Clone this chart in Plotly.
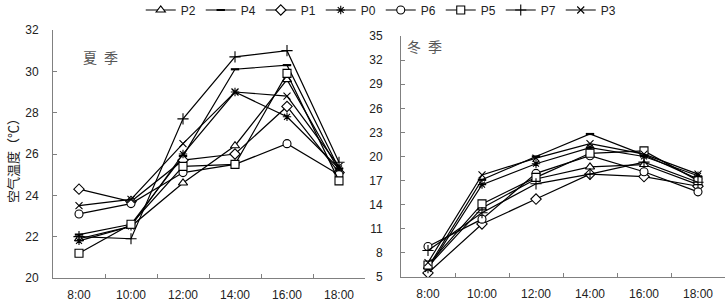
import plotly.graph_objects as go

times = ["8:00", "10:00", "12:00", "14:00", "16:00", "18:00"]
series_names = ["P2", "P4", "P1", "P0", "P6", "P5", "P7", "P3"]

# Summer (夏季) air temperature
summer_P2 = [21.9, 22.5, 24.6, 26.4, 29.6, 25.2]
summer_P4 = [22.1, 22.6, 25.9, 30.1, 30.3, 25.3]
summer_P1 = [24.3, 23.7, 25.7, 26.0, 28.3, 25.1]
summer_P0 = [21.8, 22.5, 26.0, 29.0, 27.8, 25.3]
summer_P6 = [23.1, 23.6, 25.1, 25.5, 26.5, 25.0]
summer_P5 = [21.2, 22.6, 25.4, 25.5, 29.9, 24.7]
summer_P7 = [22.0, 21.9, 27.7, 30.7, 31.0, 25.6]
summer_P3 = [23.5, 23.8, 26.5, 29.0, 28.8, 25.4]

# Winter (冬季) air temperature
winter_P2 = [6.3, 13.6, 17.2, 18.7, 19.0, 16.5]
winter_P4 = [6.2, 17.1, 20.0, 22.8, 20.2, 17.2]
winter_P1 = [5.5, 11.6, 14.7, 17.8, 17.5, 16.3]
winter_P0 = [6.0, 16.5, 19.1, 21.1, 20.0, 17.6]
winter_P6 = [8.8, 12.2, 17.9, 20.1, 18.1, 15.6]
winter_P5 = [6.5, 14.1, 17.4, 20.4, 20.7, 17.0]
winter_P7 = [8.3, 13.0, 16.6, 17.8, 19.3, 16.8]
winter_P3 = [6.8, 17.7, 19.8, 21.6, 20.3, 17.8]

summer_ticks = [20, 22, 24, 26, 28, 30, 32]
winter_ticks = [5, 8, 11, 14, 17, 20, 23, 26, 29, 32, 35]

summer = [summer_P2, summer_P4, summer_P1, summer_P0, summer_P6, summer_P5, summer_P7, summer_P3]
winter = [winter_P2, winter_P4, winter_P1, winter_P0, winter_P6, winter_P5, winter_P7, winter_P3]

symbols = {
    "P2": ("triangle-up", "white", 8),
    "P4": ("line-ew-open", "black", 6),
    "P1": ("diamond", "white", 8),
    "P0": ("asterisk-open", "black", 7),
    "P6": ("circle", "white", 8),
    "P5": ("square", "white", 8),
    "P7": ("cross-thin-open", "black", 8),
    "P3": ("x-thin-open", "black", 7),
}

fig = go.Figure()
for name, sv, wv in zip(series_names, summer, winter):
    sym, fill, size = symbols[name]
    lw = 2.2 if name == "P4" else 1.1
    mk = dict(symbol=sym, color=fill, size=size, line=dict(color="black", width=lw))
    fig.add_trace(go.Scatter(x=times, y=sv, name=name, mode="lines+markers",
                             line=dict(color="black", width=1.2), marker=mk,
                             xaxis="x", yaxis="y", legendgroup=name, showlegend=True))
    fig.add_trace(go.Scatter(x=times, y=wv, name=name, mode="lines+markers",
                             line=dict(color="black", width=1.2), marker=mk,
                             xaxis="x2", yaxis="y2", legendgroup=name, showlegend=False))

axis_color = "#808080"
tick_font = dict(family="Liberation Sans, Arial, sans-serif", size=12, color="#222222")
common_x = dict(type="category", categoryorder="array", categoryarray=times,
                tickson="boundaries", ticks="inside", ticklen=4, tickcolor=axis_color,
                showline=True, linecolor=axis_color, linewidth=1, showgrid=False,
                zeroline=False, tickfont=tick_font, ticklabelstandoff=6,
                range=[-0.5, 5.5], automargin=False)
common_y = dict(ticks="inside", ticklen=4, tickcolor=axis_color, showline=True,
                linecolor=axis_color, linewidth=1, showgrid=False, zeroline=False,
                tickfont=tick_font, automargin=False)

fig.update_layout(
    width=728, height=304,
    margin=dict(l=0, r=0, t=30, b=26, autoexpand=False),
    paper_bgcolor="white", plot_bgcolor="white",
    xaxis=dict(domain=[53/728, 365/728], anchor="y", **common_x),
    yaxis=dict(domain=[0, 1], anchor="x", range=[20, 32], tickvals=summer_ticks,
               ticklabelstandoff=11, **common_y),
    xaxis2=dict(domain=[401/728, 725/728], anchor="y2", **common_x),
    yaxis2=dict(domain=[1/248, 242/248], anchor="x2", range=[5, 35], tickvals=winter_ticks,
                ticklabelstandoff=15, **common_y),
    legend=dict(orientation="h", x=0.523, xanchor="center", y=1 - 10/304, yanchor="middle",
                xref="container", yref="container",
                font=dict(family="Liberation Sans, Arial, sans-serif", size=12, color="#222222"),
                itemwidth=30, traceorder="normal", bgcolor="rgba(0,0,0,0)",
                entrywidth=15, entrywidthmode="pixels"),
    showlegend=True,
)

fig.add_annotation(text="夏\u2002季", xref="paper", yref="paper", x=81/728, y=(278-57)/248,
                   xanchor="left", yanchor="middle", showarrow=False,
                   font=dict(family="Noto Sans CJK SC", size=14, color="#555555"))
fig.add_annotation(text="冬\u2002季", xref="paper", yref="paper", x=405/728, y=(278-46)/248,
                   xanchor="left", yanchor="middle", showarrow=False,
                   font=dict(family="Noto Sans CJK SC", size=14, color="#555555"))
fig.add_annotation(text="空气温度（℃）", xref="paper", yref="paper", x=12/728, y=(278-158)/248,
                   xanchor="center", yanchor="middle", showarrow=False, textangle=-90,
                   font=dict(family="Noto Sans CJK SC", size=13, color="#222222"))

fig.write_html("out.html", config={"displayModeBar": False},
               post_script="document.body.style.margin='0';document.body.style.padding='0';")
